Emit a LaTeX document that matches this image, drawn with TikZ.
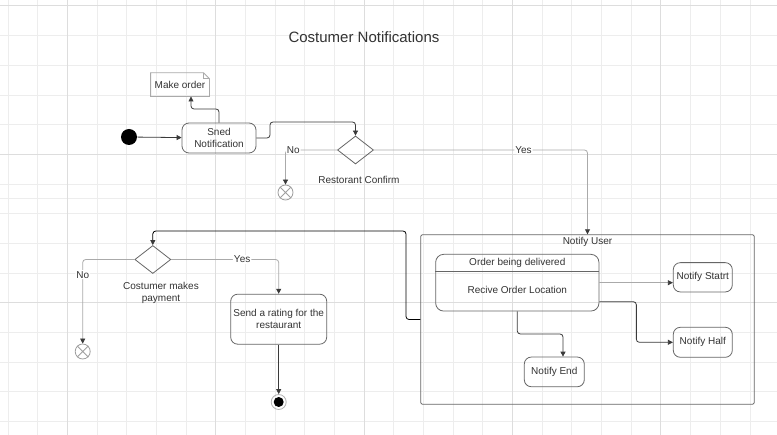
\documentclass[tikz,border=0pt]{standalone}
\usepackage{fontspec}
\setmainfont{Liberation Sans}
\usetikzlibrary{shapes.geometric,arrows.meta}
\definecolor{txt}{HTML}{333333}
\definecolor{bord}{HTML}{666666}
\definecolor{dk}{HTML}{3A3A3A}
\definecolor{lt}{HTML}{AAAAAA}
\definecolor{gridl}{HTML}{EDEDED}
\definecolor{gridd}{HTML}{DDDDDD}

\begin{document}
\begin{tikzpicture}[x=1pt,y=-1pt,line width=0.8pt,
  every node/.style={font=\fontsize{10}{12}\selectfont,text=txt},
  act/.style={draw=bord,rounded corners=7pt,align=center,inner sep=0pt},
  decision/.style={draw=bord,diamond,minimum width=36pt,minimum height=28pt,inner sep=0pt},
  flowend/.style={draw=gray!75,circle,minimum size=15pt,inner sep=0pt},
  flow/.style={draw=dk,rounded corners=3pt,-{Triangle[length=5pt,width=5pt,color=dk]}},
  lflow/.style={flow,draw=lt},
  lbl/.style={fill=white,inner sep=1pt}]
  \fill[white] (0,0) rectangle (777,435);
  \useasboundingbox (0,0) rectangle (777,435);
  \foreach \i in {0,...,25} \draw[gridl,line width=1pt] (8+29.68*\i,0) -- (8+29.68*\i,435);
  \foreach \j in {0,...,14} \draw[gridl,line width=1pt] (0,6+29.68*\j) -- (777,6+29.68*\j);
  \draw[gridl,line width=1pt] (0,199) -- (777,199);
  \foreach \i in {2,7,12,17,22} \draw[gridd,line width=1pt] (8+29.68*\i,0) -- (8+29.68*\i,435);
  \foreach \j in {0,5,10} \draw[gridd,line width=1pt] (0,6+29.68*\j) -- (777,6+29.68*\j);

  \node[font=\fontsize{15}{18}\selectfont] (title) at (364,37) {Costumer Notifications};

  \node[circle,fill=black,minimum size=16pt,inner sep=0pt] (init) at (129,137) {};
  \node[act,minimum width=74pt,minimum height=30pt] (sned) at (219,138) {Sned\\Notification};
  \node[minimum width=58pt,minimum height=23pt] (note) at (180,84.6) {Make order};
  \draw[lt] (note.north west) -- ([xshift=-6pt]note.north east) -- ([yshift=-6pt]note.north east)
    -- (note.south east) -- (note.south west) -- cycle;
  \draw[lt] ([xshift=-6pt]note.north east) -- ([xshift=-6pt,yshift=-6pt]note.north east) -- ([yshift=-6pt]note.north east);

  \node[decision] (rc) at (355.5,150) {};
  \node (rcl) at (359,180) {Restorant Confirm};
  \node[flowend] (rcx) at (285.5,192.5) {};
  \draw[gray!75] (rcx.north west) -- (rcx.south east) (rcx.north east) -- (rcx.south west);

  \node[draw=bord,rounded corners=2pt,minimum width=333.6pt,minimum height=169.6pt,inner sep=0pt] (nu) at (587.5,319.5) {};
  \node (nul) at (587.5,242) {Notify User};
  \node[act,rounded corners=8pt,minimum width=163.3pt,minimum height=56.7pt] (ord) at (517.3,282.7) {};
  \draw[bord] ([yshift=-17.4pt]ord.north west) -- ([yshift=-17.4pt]ord.north east);
  \node (ordt) at (517.3,262.5) {Order being delivered};
  \node (ordl) at (517.3,290) {Recive Order Location};
  \node[act,minimum width=59pt,minimum height=29.3pt] (ns) at (702.8,277.3) {Notify Statrt};
  \node[act,minimum width=59pt,minimum height=30pt] (nh) at (702.8,342.3) {Notify Half};
  \node[act,minimum width=60pt,minimum height=29.7pt] (ne) at (554.3,371.9) {Notify End};

  \node[decision] (cp) at (152.8,259.5) {};
  \node[align=center] (cpl) at (161,293) {Costumer makes\\payment};
  \node[flowend] (cpx) at (82.7,351.5) {};
  \draw[gray!75] (cpx.north west) -- (cpx.south east) (cpx.north east) -- (cpx.south west);
  \node[act,minimum width=96pt,minimum height=50pt] (rate) at (278.7,319.2) {Send a rating for the\\restaurant};
  \node[flowend,draw=gray!60] (fin) at (278.7,402) {};
  \fill[black] (fin.center) circle (5pt);

  \coordinate (b0) at (191,109);
  \coordinate (b1) at (270,122);
  \coordinate (b2) at (406,231);
  \coordinate (b3) at (563,334);

  \draw[flow] (init) -- (sned);
  \draw[flow] (sned.north) |- (b0) -- (b0 |- note.south);
  \draw[flow] (sned.east) -| (b1) -| (rc.north);
  \draw[lflow] (rc.west) -| (rcx.north) node[pos=0.5,anchor=west,lbl] {No};
  \draw[lflow] (rc.east) -| (nu.north) node[pos=0.35,lbl] {Yes};
  \draw[flow,draw=black] (nu.west) -| (b2) -| (cp.north);
  \draw[lflow] (cp.west) -| (cpx.north) node[pos=0.59,lbl] {No};
  \draw[lflow] (cp.east) -| (rate.north) node[pos=0.33,lbl] {Yes};
  \draw[flow] (rate.south) -- (fin.north);
  \draw[lflow] (ord.east) -- (ord.east -| ns.west);
  \draw[flow] ([yshift=-19pt]ord.east) -- ++(37,0) |- (nh.west);
  \draw[flow] (ord.south) |- (b3) -- (b3 |- ne.north);
\end{tikzpicture}
\end{document}
